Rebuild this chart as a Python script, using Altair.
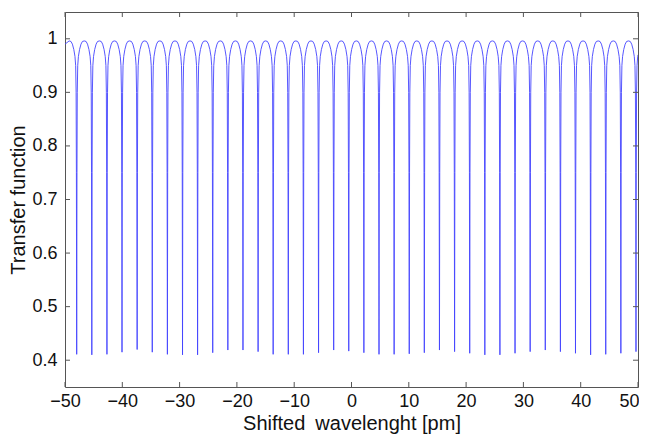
import altair as alt
import pandas as pd

# Dip (resonance) centres in pm
dip_centers = [-47.96, -45.32, -42.68, -40.05, -37.41, -34.77, -32.13, -29.49,
               -26.86, -24.22, -21.58, -18.94, -16.30, -13.67, -11.03, -8.39,
               -5.75, -3.11, -0.48, 2.16, 4.80, 7.44, 10.08, 12.71, 15.35,
               17.99, 20.63, 23.27, 25.90, 28.54, 31.18, 33.82, 36.46, 39.09,
               41.73, 44.37, 47.01, 49.65]
# Minimum value reached at each dip
dip_minima = [0.411, 0.410, 0.411, 0.415, 0.420, 0.415, 0.411, 0.410, 0.410,
              0.414, 0.419, 0.419, 0.416, 0.411, 0.411, 0.411, 0.414, 0.419,
              0.417, 0.414, 0.411, 0.411, 0.412, 0.414, 0.419, 0.416, 0.413,
              0.410, 0.410, 0.413, 0.416, 0.419, 0.416, 0.413, 0.410, 0.411,
              0.413, 0.416]
# Shape of one period around a dip (offset in pm, value); None = the dip minimum
profile_offsets = [-1.32, -1.0, -0.75, -0.5, -0.3, -0.18, -0.1, -0.05, 0.0,
                   0.05, 0.1, 0.18, 0.3, 0.5, 0.75, 1.0, 1.32]
profile_values = [0.996, 0.995, 0.99, 0.98, 0.967, 0.95, 0.9, 0.75, None,
                  0.75, 0.9, 0.95, 0.967, 0.98, 0.99, 0.995, 0.996]
# Curve values at the ends of the window
edge_x = [-50.0, 50.0]
edge_y = [0.99, 0.97]

x_ticks = [-50, -40, -30, -20, -10, 0, 10, 20, 30, 40, 50]
y_ticks = [0.4, 0.5, 0.6, 0.7, 0.8, 0.9, 1.0]

rows = [{"x": edge_x[0], "y": edge_y[0]}]
for c, m in zip(dip_centers, dip_minima):
    for o, v in zip(profile_offsets, profile_values):
        xx = round(c + o, 4)
        if -50 < xx < 50:
            rows.append({"x": xx, "y": m if v is None else v})
rows.append({"x": edge_x[1], "y": edge_y[1]})
curve = pd.DataFrame(rows).sort_values("x").reset_index(drop=True)
curve["i"] = range(len(curve))

W, H = 573, 375
FONT = "Liberation Sans"
xs = alt.Scale(domain=[-50, 50], nice=False, zero=False)
ys = alt.Scale(domain=[0.35, 1.05], nice=False, zero=False)

line = alt.Chart(curve).mark_line(color="#4444ff", strokeWidth=0.9, clip=True).encode(
    x=alt.X("x:Q", scale=xs, title="Shifted\u2002wavelenght [pm]",
            axis=alt.Axis(values=x_ticks, labelFlush=False,
                          labelOffset={"condition": {"test": "datum.value == 50", "value": -9}, "value": 0},
                          labelExpr="replace(format(datum.value, 'd'), '-', '\u2212')")),
    y=alt.Y("y:Q", scale=ys, title="Transfer function",
            axis=alt.Axis(values=y_ticks, labelFlush=False,
                          labelExpr="datum.value == 1 ? '1' : format(datum.value, '.1f')")),
    order="i:Q",
)

xt = pd.DataFrame({"t": x_ticks})
yt = pd.DataFrame({"t": y_ticks})
tick_color = "#555555"
TL = 5
xbot = alt.Chart(xt).mark_rule(color=tick_color, strokeWidth=1).encode(
    x=alt.X("t:Q", scale=xs), y=alt.value(H), y2=alt.value(H - TL))
xtop = alt.Chart(xt).mark_rule(color=tick_color, strokeWidth=1).encode(
    x=alt.X("t:Q", scale=xs), y=alt.value(0), y2=alt.value(TL))
yleft = alt.Chart(yt).mark_rule(color=tick_color, strokeWidth=1).encode(
    y=alt.Y("t:Q", scale=ys), x=alt.value(0), x2=alt.value(TL))
yright = alt.Chart(yt).mark_rule(color=tick_color, strokeWidth=1).encode(
    y=alt.Y("t:Q", scale=ys), x=alt.value(W - TL), x2=alt.value(W))

chart = alt.layer(line, xbot, xtop, yleft, yright).properties(
    width=W, height=H,
    autosize=alt.AutoSizeParams(type="none"),
    padding={"left": 57, "top": 4, "right": 1, "bottom": 48},
).configure_view(
    stroke="#555555", strokeWidth=1
).configure_axis(
    domain=False, ticks=False, grid=False,
    labelFont=FONT, titleFont=FONT, labelColor="#111", titleColor="#111",
    labelFontSize=18, titleFontSize=20, titleFontWeight="normal",
).configure_axisX(
    labelPadding=5, titlePadding=3,
).configure_axisY(
    labelPadding=8, titlePadding=3,
)

chart.save("out.html", embed_options={"renderer": "svg", "actions": False})
